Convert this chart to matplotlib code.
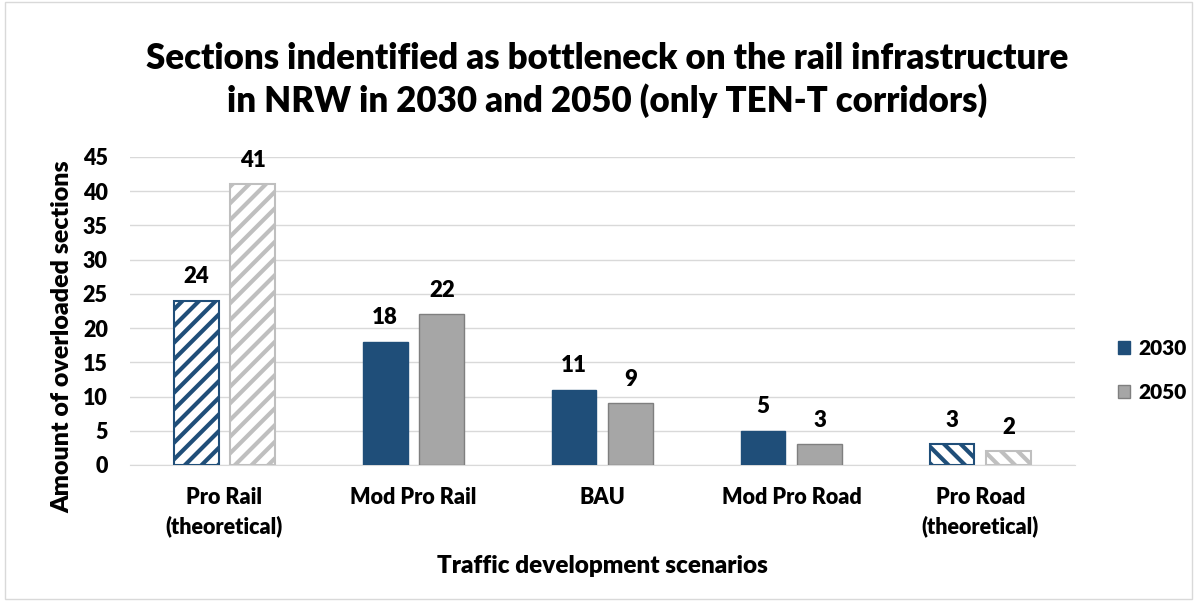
import numpy as np
import matplotlib.pyplot as plt
from matplotlib.patches import Patch

plt.rcParams['font.family'] = ['Lato', 'DejaVu Sans']
plt.rcParams['font.weight'] = 'heavy'
plt.rcParams['hatch.linewidth'] = 3

# data
scenarios = ['Pro Rail\n(theoretical)', 'Mod Pro Rail', 'BAU', 'Mod Pro Road', 'Pro Road\n(theoretical)']
sections_2030 = [24, 18, 11, 5, 3]
sections_2050 = [41, 22, 9, 3, 2]
hatches = ['//', None, None, None, '\\\\']

blue = '#1F4E79'
gray = '#A6A6A6'
gray_edge = '#7F7F7F'
gray_hatch = '#BFBFBF'
fw = 'heavy'

fig = plt.figure(figsize=(11.97, 6.01), dpi=100)
ax = fig.add_axes([0.1086, 0.2263, 0.7894, 0.5125])

x = np.arange(len(scenarios))
w = 0.237
off = 0.15

for i, (a, b) in enumerate(zip(sections_2030, sections_2050)):
    h = hatches[i]
    if h:
        ax.bar(x[i] - off, a, w, color='white', edgecolor=blue, hatch=h, linewidth=1.5, zorder=3)
        ax.bar(x[i] + off, b, w, color='white', edgecolor=gray_hatch, hatch=h, linewidth=1.5, zorder=3)
    else:
        ax.bar(x[i] - off, a, w, color=blue, edgecolor=blue, linewidth=1, zorder=3)
        ax.bar(x[i] + off, b, w, color=gray, edgecolor=gray_edge, linewidth=1, zorder=3)
    ax.text(x[i] - off, a + 2.0, str(a), ha='center', va='bottom', fontsize=16, fontweight=fw)
    ax.text(x[i] + off, b + 2.0, str(b), ha='center', va='bottom', fontsize=16, fontweight=fw)

ax.set_xlim(-0.5, 4.5)
ax.set_ylim(0, 45)
ax.set_yticks(range(0, 46, 5))
ax.set_xticks(x)
ax.set_xticklabels(scenarios, fontsize=15.5, fontweight=fw, linespacing=1.4)
ax.tick_params(axis='y', labelsize=15.5, length=0, pad=16)
ax.tick_params(axis='x', length=0, pad=16)
ax.grid(axis='y', color='#D9D9D9', linewidth=1, zorder=0)
for s in ['top', 'right', 'left']:
    ax.spines[s].set_visible(False)
ax.spines['bottom'].set_color('#D9D9D9')

ax.set_ylabel('Amount of overloaded sections', fontsize=18, fontweight=fw)
ax.yaxis.set_label_coords(-0.06, 0.416)
ax.set_xlabel('Traffic development scenarios', fontsize=17.5, fontweight=fw, labelpad=13)

fig.suptitle('Sections indentified as bottleneck on the rail infrastructure\nin NRW in 2030 and 2050 (only TEN-T corridors)',
             x=0.507, y=0.93, fontsize=25, fontweight=fw, linespacing=1.3)

handles = [Patch(facecolor=blue, edgecolor=blue, label='2030'),
           Patch(facecolor=gray, edgecolor=gray_edge, label='2050')]
fig.legend(handles=handles, loc='center left', bbox_to_anchor=(0.918, 0.384), frameon=False,
           handlelength=0.6, handleheight=0.6, labelspacing=1.2, handletextpad=0.4,
           prop={'weight': fw, 'size': 15})

fig.patches.append(plt.Rectangle((0.004, 0.004), 0.992, 0.992, transform=fig.transFigure,
                                 fill=False, edgecolor='#D9D9D9', linewidth=1))

fig.savefig('out.png', dpi=100)
